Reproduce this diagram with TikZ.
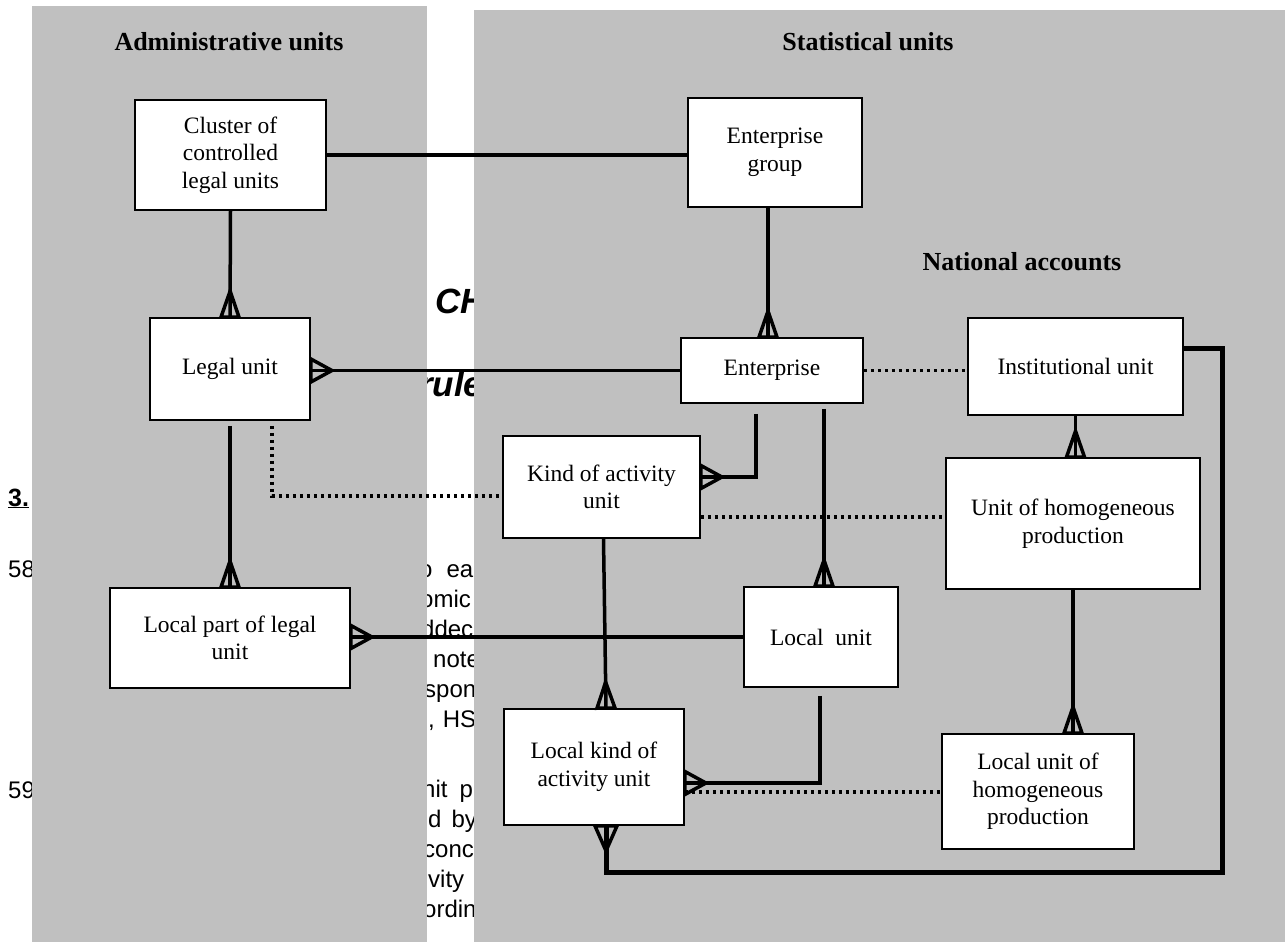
\documentclass[tikz,border=0pt]{standalone}
\usepackage{fontspec}
\setmainfont{Liberation Serif}
\newfontfamily\sansfont{Liberation Sans}
\usetikzlibrary{arrows.meta}
\definecolor{panelgray}{RGB}{192,192,192}
\pgfdeclarearrow{
  name = Crow,
  defaults = {length = 20pt, width = 18pt, line width = 3.5pt},
  setup code = {
    \pgfarrowssettipend{0pt}
    \pgfarrowssetlineend{0pt}
    \pgfarrowssetvisualbackend{-\pgfarrowlength}
    \pgfarrowssetbackend{-\pgfarrowlength}
    \pgfarrowshullpoint{0pt}{.5\pgfarrowwidth}
    \pgfarrowshullpoint{0pt}{-.5\pgfarrowwidth}
    \pgfarrowshullpoint{-\pgfarrowlength}{0pt}
    \pgfarrowssavethe\pgfarrowlength
    \pgfarrowssavethe\pgfarrowwidth
    \pgfarrowssavethe\pgfarrowlinewidth
  },
  drawing code = {
    \pgfsetdash{}{0pt}
    \pgfsetmiterjoin
    \pgfsetlinewidth{\pgfarrowlinewidth}
    \pgfpathmoveto{\pgfqpoint{0pt}{.5\pgfarrowwidth}}
    \pgfpathlineto{\pgfqpoint{-\pgfarrowlength}{0pt}}
    \pgfpathlineto{\pgfqpoint{0pt}{-.5\pgfarrowwidth}}
    \pgfpathclose
    \pgfusepathqstroke
  },
  parameters = {\the\pgfarrowlength,\the\pgfarrowwidth,\the\pgfarrowlinewidth},
}
\begin{document}
\begin{tikzpicture}[x=1pt,y=-1pt,
  box/.style={draw, line width=1.8pt, fill=white, align=center, inner sep=0pt, font=\fontsize{23.5}{27.5}\selectfont},
  title/.style={font=\bfseries\fontsize{26}{30}\selectfont, inner sep=0pt},
  conn/.style={line width=3.5pt},
  manyv/.style={conn, -{Crow[length=26pt,width=18pt,line width=3.5pt]}},
  manyh/.style={conn, -{Crow[length=21pt,width=23pt,line width=3.5pt]}},
  dotconn/.style={line width=3.5pt, dash pattern=on 3.5pt off 3.5pt},
  loopconn/.style={line width=5pt, -{Crow[length=25pt,width=22pt,line width=3.5pt]}},
  bgtext/.style={font=\sansfont\fontsize{24}{28}\selectfont, anchor=base west, inner sep=0pt},
  headtext/.style={font=\sansfont\bfseries\itshape\fontsize{35}{40}\selectfont, anchor=base west, inner sep=0pt},
  panel/.style={fill=panelgray, draw=none}
]
\useasboundingbox (0,0) rectangle (1285,942);
\fill[white] (0,0) rectangle (1285,942);

% text of the page underneath
\begin{scope}
\clip (0,0) rectangle (32,942);
\node[bgtext, font=\sansfont\bfseries\fontsize{25}{28}\selectfont] (t3) at (8,506) {\underline{3.}};
\node[bgtext] (t58) at (8,577) {58};
\node[bgtext] (t59) at (8,798) {59};
\end{scope}
\begin{scope}
\clip (427,0) rectangle (474,942);
\node[headtext] (tch) at (435,313) {CH};
\node[headtext] (trule) at (419,396) {rule};
\node[bgtext] (p1) at (419,577) {o\hspace{14pt}ea};
\node[bgtext] (p2) at (420,607) {omic};
\node[bgtext] (p3) at (421,637) {ddec};
\node[bgtext] (p4) at (433,667) {note};
\node[bgtext] (p5) at (424,697) {spon};
\node[bgtext] (p6) at (428,727) {,\hspace{8pt}HS};
\node[bgtext] (q1) at (422,797) {nit\hspace{12pt}p};
\node[bgtext] (q2) at (428,827) {d\hspace{10pt}by};
\node[bgtext] (q3) at (423,857) {conc};
\node[bgtext] (q4) at (428,887) {vity};
\node[bgtext] (q5) at (423,917) {ordin};
\end{scope}

% panels
\fill[panel] (32,6) rectangle (427,942);
\fill[panel] (474,10) rectangle (1285,942);

% titles
\node[title] (tadm) at (229,42) {Administrative units};
\node[title] (tstat) at (868,42) {Statistical units};
\node[title] (tna) at (1022,262) {National accounts};

% boxes
\node[box, minimum width=191pt, minimum height=110pt] (clu) at (230.5,155) {Cluster of\\controlled\\legal units};
\node[box, minimum width=160pt, minimum height=102pt] (lu) at (230,369) {Legal unit};
\node[box, minimum width=240pt, minimum height=100pt] (lpl) at (230,638) {Local part of legal\\unit};
\node[box, minimum width=174pt, minimum height=109pt] (eg) at (775,152.5) {Enterprise\\group};
\node[box, minimum width=182pt, minimum height=65pt] (ent) at (772,370.5) {Enterprise};
\node[box, minimum width=215pt, minimum height=97pt] (iu) at (1075.5,366.5) {Institutional unit};
\node[box, minimum width=197pt, minimum height=102pt] (kau) at (601.5,487) {Kind of activity\\unit};
\node[box, minimum width=254pt, minimum height=131pt] (uhp) at (1073,523.5) {Unit of homogeneous\\production};
\node[box, minimum width=154pt, minimum height=100pt] (loc) at (821,637) {Local\ \ unit};
\node[box, minimum width=180pt, minimum height=116pt] (lkau) at (594,767) {Local kind of\\activity unit};
\node[box, minimum width=192pt, minimum height=115pt] (luhp) at (1038,791.5) {Local unit of\\homogeneous\\production};

% connectors
\draw[conn] (clu.east) -- (clu.east -| eg.west);
\draw[manyv] (clu.south) -- (lu.north);
\draw[manyh] (ent.west) -- (ent.west -| lu.east);
\draw[manyv, shorten <=5pt] (lu.south) -- (lpl.north);
\draw[dotconn] ([xshift=42pt,yshift=-5pt]lu.south) |- ([yshift=-9pt]kau.west);
\draw[manyh] (loc.west) -- (loc.west -| lpl.east);
\draw[manyv] ([xshift=-7pt]eg.south) -- ([xshift=-4pt]ent.north);
\draw[dotconn] (ent.east) -- (ent.east -| iu.west);
\coordinate (loopcorner) at (1222,872);
\draw[loopconn] ([yshift=18pt]iu.east) -| (loopcorner) -| ([xshift=12pt]lkau.south);
\draw[manyh, shorten <=10pt] ([xshift=-16pt]ent.south) |- ([yshift=10pt]kau.east);
\draw[manyv, shorten <=5pt] ([xshift=52pt]ent.south) -- ([xshift=3pt]loc.north);
\draw[manyv] (iu.south) -- (iu.south |- uhp.north);
\draw[manyv] ([xshift=2pt]kau.south) -- ([xshift=12pt]lkau.north);
\draw[dotconn] ([yshift=-30pt]kau.east) -- ([yshift=-30pt]kau.east -| uhp.west);
\draw[manyh, shorten <=8pt] ([xshift=-1pt]loc.south) |- ([yshift=-16pt]lkau.east);
\draw[manyv] (uhp.south) -- (uhp.south |- luhp.north);
\draw[dotconn] ([yshift=-25pt]lkau.east) -- ([yshift=-25pt]lkau.east -| luhp.west);
\end{tikzpicture}
\end{document}
